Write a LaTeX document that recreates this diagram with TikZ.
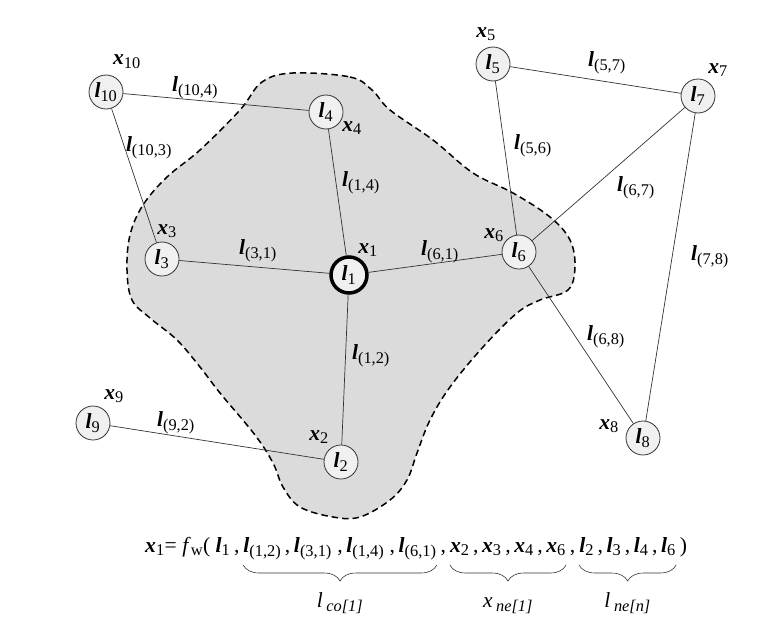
\documentclass[tikz,border=0pt]{standalone}
\usepackage{fontspec}
\usepackage{amsmath}
\setmainfont{Liberation Serif}
\usetikzlibrary{decorations.pathreplacing,calc}
\renewcommand\defaultscriptratio{.76}
\newcommand\bl{\textbf{\textit{l}}}
\newcommand\bx{\textbf{\textit{x}}}
\newcommand\Sb[1]{\ensuremath{_{\text{\normalfont #1}}}}
\tikzset{
  vtx/.style={circle, draw=black!80, fill=gray!12, minimum size=34pt, inner sep=0pt, line width=0.8pt},
  ctr/.style={vtx, draw=black, line width=3.5pt, minimum size=36pt},
  edge/.style={line width=0.7pt, draw=black!80},
  elab/.style={inner sep=0pt},
  xlab/.style={inner sep=0pt},
  fpart/.style={inner sep=0pt, anchor=base west, font=\fontsize{21.6}{26}\selectfont},
  bracepath/.style={decorate, decoration={brace, mirror, amplitude=16pt}, line width=0.6pt, draw=black!80},
  blob/.style={fill=gray!28, draw=black, line width=1.5pt, dash pattern=on 6.5pt off 4pt},
}
\begin{document}
\begin{tikzpicture}[x=1pt, y=-1pt, font=\fontsize{21.5}{25}\selectfont]
\useasboundingbox (0,0) rectangle (759,634);
% shaded region
\path[blob] plot[smooth cycle, tension=0.6] coordinates {
 (293,73) (350,77) (372,90) (390,110) (433,140) (473,173) (513,193) (550,217)
 (570,240) (575,267) (568,290) (540,300) (517,313) (483,347) (450,387) (430,420)
 (417,453) (407,480) (390,500) (360,517) (333,517) (300,507) (283,487) (273,463)
 (255,435) (220,393) (200,367) (177,340) (150,318) (132,300) (127,270) (130,235)
 (143,205) (167,177) (200,150) (240,110) (262,82)};
% vertices
\node[vtx] (n10) at (106,92) {\bl\Sb{10}};
\node[vtx] (n4) at (326,112) {\bl\Sb{4}};
\node[vtx] (n3) at (162,259) {\bl\Sb{3}};
\node[ctr] (n1) at (349,275) {\bl\Sb{1}};
\node[vtx] (n6) at (519,252) {\bl\Sb{6}};
\node[vtx] (n5) at (493,64) {\bl\Sb{5}};
\node[vtx] (n7) at (698,96) {\bl\Sb{7}};
\node[vtx] (n8) at (643,438) {\bl\Sb{8}};
\node[vtx] (n9) at (93,423) {\bl\Sb{9}};
\node[vtx] (n2) at (341,462) {\bl\Sb{2}};
% edges
\draw[edge] (n10) -- (n4);
\draw[edge] (n10) -- (n3);
\draw[edge] (n4) -- (n1);
\draw[edge] (n3) -- (n1);
\draw[edge] (n1) -- (n6);
\draw[edge] (n1) -- (n2);
\draw[edge] (n9) -- (n2);
\draw[edge] (n5) -- (n6);
\draw[edge] (n5) -- (n7);
\draw[edge] (n6) -- (n7);
\draw[edge] (n7) -- (n8);
\draw[edge] (n6) -- (n8);
% edge labels
\node[elab] (e104) at (195,88) {\bl\Sb{(10,4)}};
\node[elab] (e103) at (149,148) {\bl\Sb{(10,3)}};
\node[elab] (e14) at (361,183) {\bl\Sb{(1,4)}};
\node[elab] (e31) at (258,251) {\bl\Sb{(3,1)}};
\node[elab] (e61) at (440,252) {\bl\Sb{(6,1)}};
\node[elab] (e12) at (371,356) {\bl\Sb{(1,2)}};
\node[elab] (e92) at (176,423) {\bl\Sb{(9,2)}};
\node[elab] (e56) at (533,146) {\bl\Sb{(5,6)}};
\node[elab] (e57) at (607,63) {\bl\Sb{(5,7)}};
\node[elab] (e67) at (636,188) {\bl\Sb{(6,7)}};
\node[elab] (e78) at (710,257) {\bl\Sb{(7,8)}};
\node[elab] (e68) at (606,337) {\bl\Sb{(6,8)}};
% state labels
\node[xlab] (x10) at (127,62) {\bx\Sb{10}};
\node[xlab] (x4) at (352,128) {\bx\Sb{4}};
\node[xlab] (x3) at (167,231) {\bx\Sb{3}};
\node[xlab] (x1) at (368,250) {\bx\Sb{1}};
\node[xlab] (x6) at (494,235) {\bx\Sb{6}};
\node[xlab] (x5) at (486,34) {\bx\Sb{5}};
\node[xlab] (x7) at (718,70) {\bx\Sb{7}};
\node[xlab] (x8) at (609,426) {\bx\Sb{8}};
\node[xlab] (x9) at (114,396) {\bx\Sb{9}};
\node[xlab] (x2) at (319,437) {\bx\Sb{2}};
% formula
\node[fpart] (fA) at (145,552) {\bx\Sb{1}=\ \textit{f}\Sb{w}(\ \bl\Sb{1}\,,\,};
\node[fpart] (fB) at (fA.base east) {\bl\Sb{(1,2)}\,,\,\bl\Sb{(3,1)}\ ,\,\bl\Sb{(1,4)}\ ,\,\bl\Sb{(6,1)}};
\node[fpart] (fC) at (fB.base east) {\,,\,};
\node[fpart] (fD) at (fC.base east) {\bx\Sb{2}\,,\,\bx\Sb{3}\,,\,\bx\Sb{4}\,,\,\bx\Sb{6}};
\node[fpart] (fE) at (fD.base east) {\,,\,};
\node[fpart] (fF) at (fE.base east) {\bl\Sb{2}\,,\,\bl\Sb{3}\,,\,\bl\Sb{4}\,,\,\bl\Sb{6}};
\node[fpart] (fG) at (fF.base east) {\,)};
% braces
\draw[bracepath] ([yshift=-13pt]fB.base west) -- coordinate[midway] (bB) ([yshift=-13pt]fB.base east);
\draw[bracepath] ([yshift=-13pt]fD.base west) -- coordinate[midway] (bD) ([yshift=-13pt]fD.base east);
\draw[bracepath] ([yshift=-13pt]fF.base west) -- coordinate[midway] (bF) ([yshift=-13pt]fF.base east);
\node[anchor=base, inner sep=0pt] (lB) at ([yshift=-42pt]bB) {\textit{l}\,\Sb{\itshape co[1]}};
\node[anchor=base, inner sep=0pt] (lD) at ([yshift=-42pt]bD) {\textit{x}\,\Sb{\itshape ne[1]}};
\node[anchor=base, inner sep=0pt] (lF) at ([yshift=-42pt]bF) {\textit{l}\,\Sb{\itshape ne[n]}};
\end{tikzpicture}
\end{document}
